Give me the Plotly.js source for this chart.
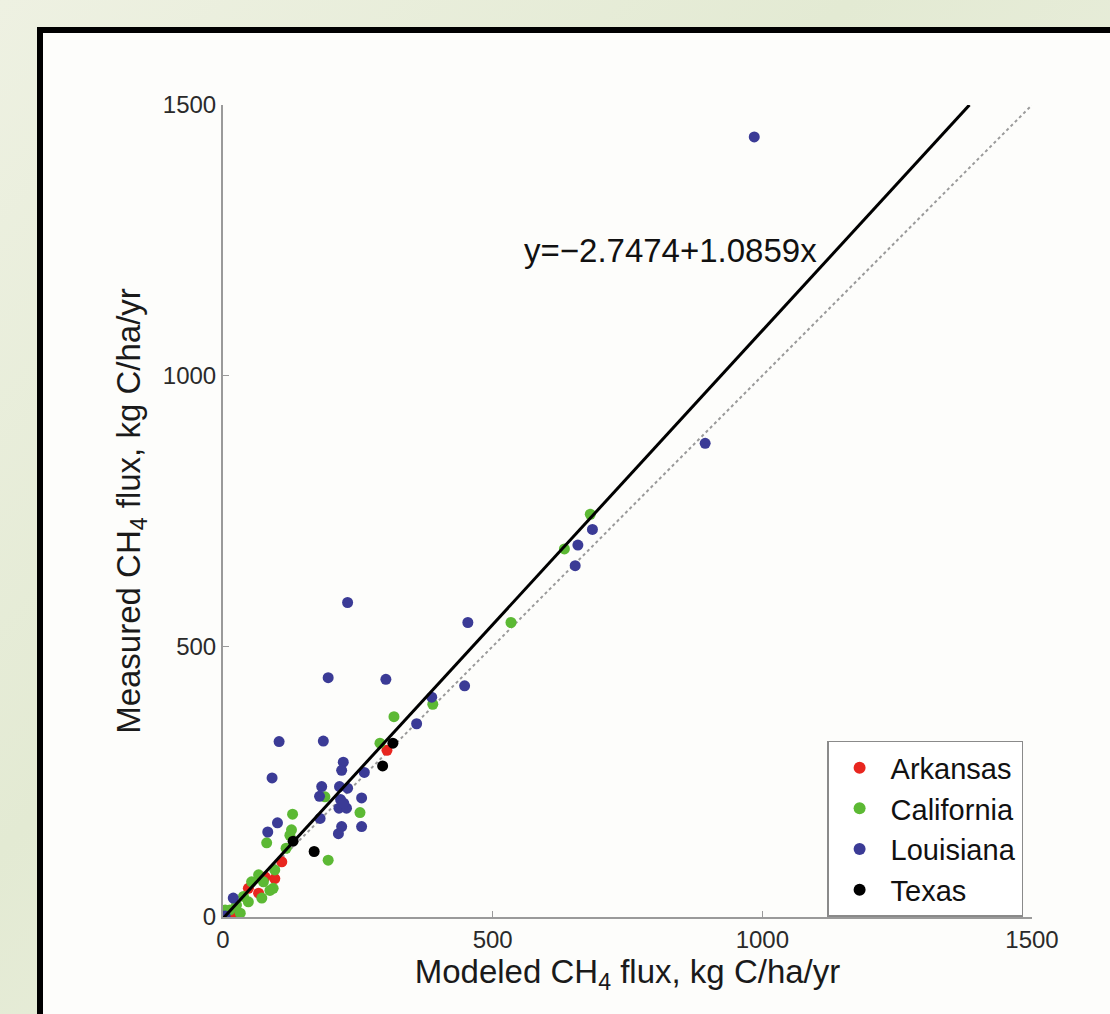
<!DOCTYPE html>
<html>
<head>
<meta charset="utf-8">
<script src="https://cdn.plot.ly/plotly-3.0.1.min.js"></script>
<style>
  html, body { margin: 0; padding: 0; width: 1110px; height: 1014px; overflow: hidden; }
  body { background: linear-gradient(135deg, #eef1e2 0%, #e3ead3 40%, #eaeedd 70%, #dfe7cf 100%); position: relative; }
  #frame { position: absolute; left: 37px; top: 27px; width: 1100px; height: 1010px; border: 6px solid #000; background: #fdfdfb; box-sizing: border-box; }
  #chart { position: absolute; left: 0; top: 0; width: 1110px; height: 1014px; }
</style>
</head>
<body>
<div id="frame"></div>
<div id="chart"></div>
<script>
// Modeled (x) vs measured (y) CH4 flux, kg C/ha/yr
const arkansasX = [109, 96, 66, 47, 22, 304, 78];
const arkansasY = [102, 71, 44, 53, 4, 308, 74];

const californiaX = [129, 127, 124, 81, 117, 195, 254, 189, 291, 317, 96, 66, 75, 93, 53, 72, 38, 47, 25, 13, 32, 4, 389, 534, 681, 633, 87];
const californiaY = [190, 161, 151, 137, 127, 105, 193, 222, 321, 370, 87, 78, 65, 53, 65, 35, 38, 28, 22, 13, 7, 13, 393, 544, 744, 680, 49];

const louisianaX = [985, 894, 685, 658, 653, 454, 448, 387, 359, 231, 195, 302, 104, 186, 91, 223, 220, 262, 183, 179, 216, 231, 218, 257, 215, 229, 224, 180, 220, 214, 257, 101, 83, 19, 4];
const louisianaY = [1441, 875, 716, 687, 649, 544, 427, 406, 357, 581, 442, 439, 324, 325, 257, 286, 271, 267, 241, 223, 241, 238, 217, 220, 201, 201, 210, 182, 167, 154, 167, 174, 157, 35, 2];

const texasX = [130, 169, 296, 315];
const texasY = [140, 121, 279, 321];

// Regression fit and 1:1 reference
const fitIntercept = -2.7474;
const fitSlope = 1.0859;
const fitXRange = [0, 1384];
const oneToOne = [0, 1500];
const tickVals = [0, 500, 1000, 1500];
const tickText = ['0', '500', '1000', '1500'];

const fitY = fitXRange.map(x => fitIntercept + fitSlope * x);

const font = 'Liberation Sans, Arial, sans-serif';
const msize = 11;

const traces = [
  { x: oneToOne, y: oneToOne, mode: 'lines', line: {color: '#9a9a9a', width: 2, dash: 'dot'}, showlegend: false, hoverinfo: 'skip' },
  { x: arkansasX, y: arkansasY, mode: 'markers', name: 'Arkansas', marker: {color: '#e8261f', size: msize} },
  { x: californiaX, y: californiaY, mode: 'markers', name: 'California', marker: {color: '#5cb934', size: msize} },
  { x: louisianaX, y: louisianaY, mode: 'markers', name: 'Louisiana', marker: {color: '#3b3b96', size: msize} },
  { x: texasX, y: texasY, mode: 'markers', name: 'Texas', marker: {color: '#000000', size: msize} },
  { x: fitXRange, y: fitY, mode: 'lines', line: {color: '#000000', width: 3}, showlegend: false, hoverinfo: 'skip' }
];

const axisCommon = {
  range: [0, 1500],
  tickvals: tickVals,
  ticktext: tickText,
  ticks: 'inside',
  ticklen: 6,
  tickwidth: 1.5,
  tickcolor: '#9a9a9a',
  showline: true,
  linecolor: '#9a9a9a',
  linewidth: 2,
  showgrid: false,
  zeroline: false,
  tickfont: {family: font, size: 24, color: '#2a2a2a'},
  fixedrange: true
};

const layout = {
  width: 1110,
  height: 1014,
  margin: {l: 223, r: 78, t: 105, b: 97},
  paper_bgcolor: 'rgba(0,0,0,0)',
  plot_bgcolor: 'rgba(0,0,0,0)',
  font: {family: font, color: '#222'},
  xaxis: Object.assign({}, axisCommon, {
    title: {text: 'Modeled CH<sub>4</sub> flux, kg C/ha/yr', font: {family: font, size: 33, color: '#1a1a1a'}, standoff: 2}
  }),
  yaxis: Object.assign({}, axisCommon, {
    title: {text: 'Measured CH<sub>4</sub> flux, kg C/ha/yr', font: {family: font, size: 33, color: '#1a1a1a'}, standoff: 12}
  }),
  legend: {
    x: 0.989, y: 0.217, xanchor: 'right', yanchor: 'top',
    bgcolor: '#ffffff', bordercolor: '#8a8a8a', borderwidth: 1.5,
    font: {family: font, size: 29, color: '#111'},
    itemsizing: 'constant',
    itemwidth: 52,
    tracegroupgap: 0
  },
  annotations: [{
    x: 829, y: 1232, xref: 'x', yref: 'y', showarrow: false,
    text: 'y=\u22122.7474+1.0859x',
    font: {family: font, size: 33, color: '#111'}
  }]
};

Plotly.newPlot('chart', traces, layout, {displayModeBar: false, staticPlot: true});
</script>
</body>
</html>
